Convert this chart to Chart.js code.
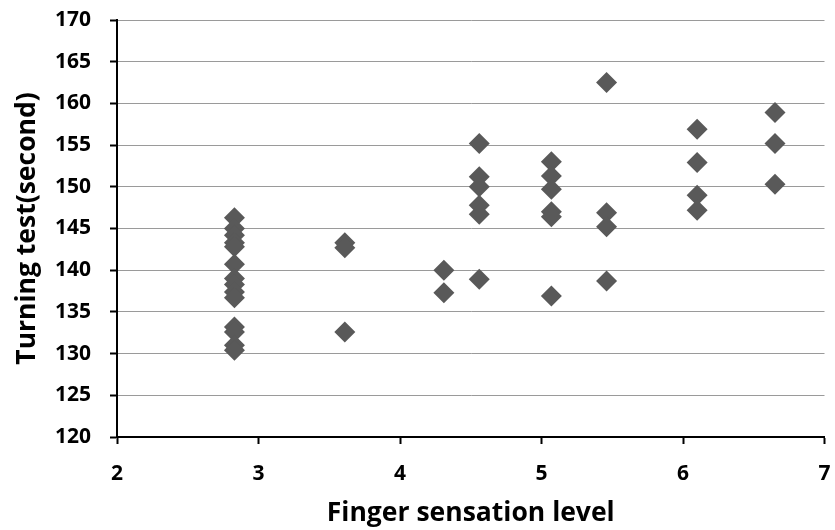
<!DOCTYPE html>
<html>
<head>
<meta charset="utf-8">
<script src="https://cdn.jsdelivr.net/npm/chart.js@4/dist/chart.umd.min.js"></script>
<style>
  html, body { margin: 0; padding: 0; background: #fff; }
  canvas { display: block; }
</style>
</head>
<body>
<canvas id="myChart" width="835" height="530"></canvas>
<script>
// finger sensation level (x) and turning test time in seconds (y), one entry per subject
const sensation = [
  2.83, 2.83, 2.83, 2.83, 2.83, 2.83, 2.83, 2.83, 2.83, 2.83, 2.83, 2.83, 2.83, 2.83,
  3.61, 3.61, 3.61,
  4.31, 4.31,
  4.56, 4.56, 4.56, 4.56, 4.56, 4.56,
  5.07, 5.07, 5.07, 5.07, 5.07, 5.07,
  5.46, 5.46, 5.46, 5.46,
  6.1, 6.1, 6.1, 6.1,
  6.65, 6.65, 6.65
];
const turning = [
  146.3, 145.0, 144.2, 143.3, 142.8, 140.7, 139.0, 138.3, 137.4, 136.7, 133.2, 132.6, 131.0, 130.4,
  143.3, 142.7, 132.6,
  140.0, 137.3,
  155.2, 151.2, 150.0, 147.8, 146.7, 138.9,
  153.0, 151.3, 149.7, 147.0, 146.4, 136.9,
  162.5, 146.9, 145.2, 138.7,
  156.9, 152.9, 149.0, 147.2,
  158.9, 155.2, 150.3
];
const xTicks = [2, 3, 4, 5, 6, 7];
const yTicks = [120, 125, 130, 135, 140, 145, 150, 155, 160, 165, 170];

const points = sensation.map((x, i) => ({ x: x, y: turning[i] }));
const tickFont = { family: 'Open Sans', size: 21, weight: 'bold' };
const titleFont = { family: 'Open Sans', size: 26.5, weight: 'bold' };

const ctx = document.getElementById('myChart').getContext('2d');
const myChart = new Chart(ctx, {
  type: 'scatter',
  data: {
    datasets: [{
      label: 'Turning test',
      data: points,
      pointStyle: 'rectRot',
      pointRadius: 10.5,
      pointHoverRadius: 10.5,
      pointBorderWidth: 0,
      backgroundColor: '#595959',
      borderColor: '#595959'
    }]
  },
  options: {
    responsive: false,
    animation: false,
    layout: { padding: { top: 20, right: 8, bottom: 0, left: 0 } },
    plugins: {
      legend: { display: false },
      tooltip: { enabled: false }
    },
    scales: {
      x: {
        type: 'linear',
        min: xTicks[0],
        max: xTicks[xTicks.length - 1],
        afterBuildTicks: (scale) => { scale.ticks = xTicks.map(v => ({ value: v })); },
        afterFit: (scale) => {
          scale.height = 93;
          scale.paddingLeft = 0;
          scale.paddingRight = 0;
        },
        border: { display: true, color: '#000', width: 2 },
        grid: { drawOnChartArea: false, drawTicks: true, tickLength: 7, tickColor: '#000', tickWidth: 2 },
        ticks: { color: '#000', font: tickFont, padding: 17, maxRotation: 0 },
        title: { display: true, text: 'Finger sensation level', color: '#000', font: titleFont, padding: { top: 4, bottom: 1 } }
      },
      y: {
        min: yTicks[0],
        max: yTicks[yTicks.length - 1],
        afterBuildTicks: (scale) => { scale.ticks = yTicks.map(v => ({ value: v })); },
        afterFit: (scale) => {
          scale.width = 117;
          scale.paddingTop = 0;
          scale.paddingBottom = 0;
        },
        border: { display: true, color: '#000', width: 2 },
        grid: { color: '#9a9a9a', lineWidth: 1, drawTicks: true, tickLength: 7, tickColor: '#000', tickWidth: 2 },
        ticks: { color: '#000', font: tickFont, padding: 19 },
        title: { display: true, text: 'Turning test(second)', color: '#000', font: titleFont, padding: { top: 12, bottom: 4 } }
      }
    }
  }
});
</script>
</body>
</html>
